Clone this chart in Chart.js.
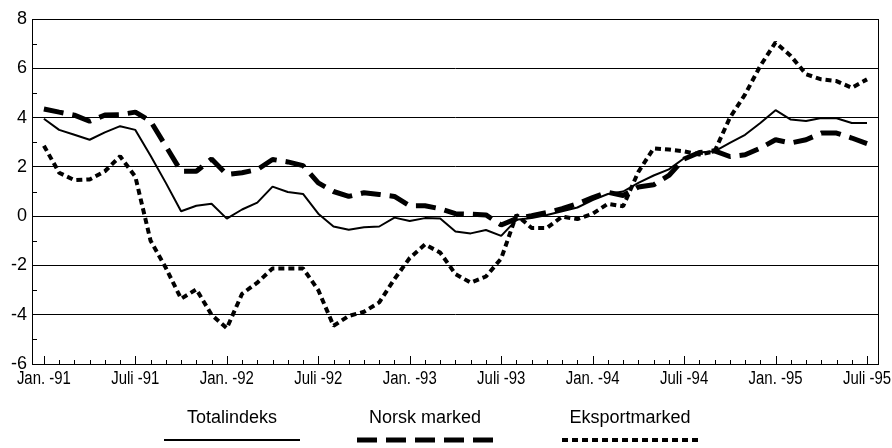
<!DOCTYPE html>
<html lang="no">
<head>
    <meta charset="UTF-8">
    <title>Prisindeks</title>
    <style>
        body {
            margin: 0;
            background-color: #fff;
        }
        .chart-container {
            width: 892px;
            height: 448px;
        }
    </style>
    <script src="https://cdn.jsdelivr.net/npm/chart.js"></script>
</head>
<body>
    <div class="chart-container">
        <canvas id="chart"></canvas>
    </div>

    <script>
        // x-akse: en verdi per måned, jan. 1991 - juli 1995
        const xTickLabels = ['Jan. -91', 'Juli -91', 'Jan. -92', 'Juli -92', 'Jan. -93',
            'Juli -93', 'Jan. -94', 'Juli -94', 'Jan. -95', 'Juli -95'];
        const yTicks = [-6, -4, -2, 0, 2, 4, 6, 8];

        const totalindeks = [3.95, 3.5, 3.3, 3.1, 3.4, 3.65, 3.5, 2.45, 1.35, 0.2,
            0.42, 0.5, -0.1, 0.27, 0.55, 1.2, 0.98, 0.9, 0.1, -0.42,
            -0.55, -0.45, -0.42, -0.06, -0.2, -0.08, -0.1, -0.62, -0.7, -0.56,
            -0.8, -0.15, -0.08, 0.05, 0.2, 0.35, 0.65, 0.9, 1.0, 1.35,
            1.65, 1.9, 2.35, 2.58, 2.63, 2.97, 3.3, 3.78, 4.3, 3.92,
            3.86, 3.98, 3.97, 3.78, 3.78];

        const norskMarked = [4.35, 4.22, 4.1, 3.85, 4.1, 4.12, 4.22, 3.85, 2.84, 1.82,
            1.82, 2.32, 1.69, 1.76, 1.89, 2.3, 2.2, 2.05, 1.35, 1.0,
            0.8, 0.95, 0.88, 0.8, 0.42, 0.42, 0.3, 0.1, 0.08, 0.05,
            -0.36, -0.1, 0.02, 0.15, 0.3, 0.5, 0.75, 0.97, 0.84, 1.18,
            1.27, 1.65, 2.32, 2.58, 2.65, 2.42, 2.49, 2.76, 3.1, 2.97,
            3.1, 3.37, 3.37, 3.17, 2.94];

        const eksportmarked = [2.86, 1.76, 1.46, 1.49, 1.82, 2.43, 1.6, -1.0, -2.1, -3.35,
            -2.97, -4.0, -4.55, -3.15, -2.7, -2.12, -2.12, -2.12, -3.0, -4.45,
            -4.05, -3.88, -3.5, -2.55, -1.7, -1.15, -1.48, -2.35, -2.7, -2.45,
            -1.72, 0.05, -0.48, -0.48, -0.02, -0.12, 0.1, 0.5, 0.4, 1.8,
            2.75, 2.7, 2.63, 2.5, 2.63, 3.99, 4.94, 6.1, 7.05, 6.5,
            5.76, 5.55, 5.48, 5.21, 5.55];

        const seriesNames = ['Totalindeks', 'Norsk marked', 'Eksportmarked'];

        const FONT = '"Liberation Sans", Arial, Helvetica, sans-serif';

        const toPoints = arr => arr.map((v, i) => ({ x: i, y: v }));

        // linjestiler for serier og tegnforklaring
        const styles = [
            { width: 2, dash: [] },
            { width: 5, dash: [20, 9] },
            { width: 4, dash: [6, 4] }
        ];

        // ramme, små merker innenfor aksene, smale månedsetiketter og tegnforklaring
        const framePlugin = {
            id: 'framePlugin',
            afterDraw(chart) {
                const { ctx, chartArea: a, scales: { x, y } } = chart;
                ctx.save();
                ctx.strokeStyle = '#000';
                ctx.lineWidth = 1;
                ctx.setLineDash([]);
                ctx.strokeRect(Math.round(a.left) + 0.5, Math.round(a.top) + 0.5,
                    Math.round(a.right - a.left), Math.round(a.bottom - a.top));

                ctx.beginPath();
                for (let i = 0; i < totalindeks.length; i++) {
                    const px = Math.round(x.getPixelForValue(i)) + 0.5;
                    const len = i % 6 === 0 ? 8 : 4;
                    ctx.moveTo(px, a.bottom);
                    ctx.lineTo(px, a.bottom - len);
                }
                for (let v = yTicks[0] + 1; v < yTicks[yTicks.length - 1]; v += 2) {
                    const py = Math.round(y.getPixelForValue(v)) + 0.5;
                    ctx.moveTo(a.left, py);
                    ctx.lineTo(a.left + 5, py);
                }
                ctx.stroke();

                ctx.fillStyle = '#000';
                ctx.textAlign = 'center';
                ctx.textBaseline = 'middle';

                // månedsetiketter, smal skrift (klemt horisontalt)
                const squeeze = 0.83;
                ctx.font = '18px ' + FONT;
                xTickLabels.forEach((lab, k) => {
                    const px = x.getPixelForValue(k * 6);
                    ctx.save();
                    ctx.translate(px, a.bottom + 15);
                    ctx.scale(squeeze, 1);
                    ctx.fillText(lab, 0, 0);
                    ctx.restore();
                });

                // tegnforklaring
                const centers = [232, 425, 630];
                seriesNames.forEach((name, k) => {
                    ctx.fillText(name, centers[k], 418);
                    ctx.beginPath();
                    ctx.lineWidth = styles[k].width;
                    ctx.setLineDash(styles[k].dash);
                    ctx.moveTo(centers[k] - 68, 440);
                    ctx.lineTo(centers[k] + 68, 440);
                    ctx.stroke();
                });
                ctx.restore();
            }
        };

        const dataSets = [totalindeks, norskMarked, eksportmarked].map((arr, k) => ({
            label: seriesNames[k],
            data: toPoints(arr),
            borderColor: '#000',
            borderWidth: styles[k].width,
            borderDash: styles[k].dash,
            borderJoinStyle: 'bevel',
            pointRadius: 0,
            tension: 0,
            fill: false
        }));

        new Chart(document.getElementById('chart').getContext('2d'), {
            type: 'line',
            data: { datasets: dataSets },
            options: {
                responsive: true,
                maintainAspectRatio: false,
                animation: false,
                layout: { padding: { top: 19, right: 14, left: 0, bottom: 0 } },
                plugins: {
                    legend: { display: false },
                    tooltip: { enabled: false }
                },
                scales: {
                    x: {
                        type: 'linear',
                        min: -0.78,
                        max: 54.72,
                        grid: { display: false, drawTicks: false },
                        border: { display: true, color: '#000', width: 1 },
                        ticks: { display: false, stepSize: 6 },
                        afterFit: scale => {
                            scale.height = 84;
                            scale.paddingLeft = 0;
                            scale.paddingRight = 0;
                        }
                    },
                    y: {
                        min: yTicks[0],
                        max: yTicks[yTicks.length - 1],
                        grid: { color: '#000', lineWidth: 1, drawTicks: false },
                        border: { display: true, color: '#000', width: 1 },
                        ticks: {
                            stepSize: 2,
                            padding: 5,
                            color: '#000',
                            font: { family: FONT, size: 18 }
                        },
                        afterFit: scale => {
                            scale.width = 32;
                            scale.paddingTop = 0;
                            scale.paddingBottom = 0;
                        }
                    }
                }
            },
            plugins: [framePlugin]
        });
    </script>
</body>
</html>
